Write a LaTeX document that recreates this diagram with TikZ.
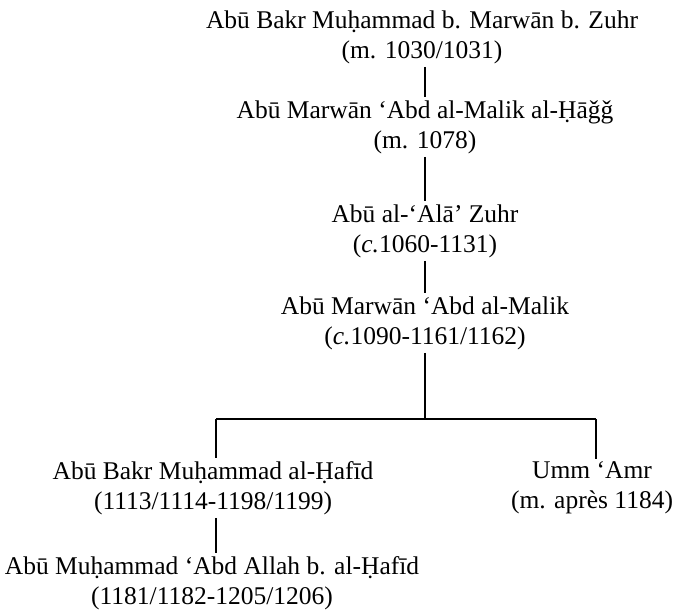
\documentclass[tikz,border=0pt]{standalone}
\usepackage{fontspec}
\setmainfont{Liberation Serif}
\tikzset{
  person/.style={align=center, inner xsep=0pt, inner ysep=3pt,
    font=\fontsize{25.5}{30}\selectfont},
  link/.style={line width=1.3pt, line cap=butt}
}
\begin{document}
\begin{tikzpicture}[x=1pt,y=-1pt]
\useasboundingbox (0,0) rectangle (674,613);
\node[person] (n1) at (422,37) {Abū Bakr Muḥammad b. Marwān b. Zuhr\\(m. 1030/1031)};
\node[person] (n2) at (425,127) {Abū Marwān ‘Abd al-Malik al-Ḥāǧǧ\\(m. 1078)};
\node[person] (n3) at (425,231) {Abū al-‘Alā’ Zuhr\\(\textit{c.}1060-1131)};
\node[person] (n4) at (425,323) {Abū Marwān ‘Abd al-Malik\\(\textit{c.}1090-1161/1162)};
\node[person] (n5) at (213,488) {Abū Bakr Muḥammad al-Ḥafīd\\(1113/1114-1198/1199)};
\node[person] (n6) at (592,488) {Umm ‘Amr\\(m. après 1184)};
\node[person] (n7) at (212,583) {Abū Muḥammad ‘Abd Allah b. al-Ḥafīd\\(1181/1182-1205/1206)};
\coordinate (fork) at (425,419);
\coordinate (forkL) at (216,419);
\coordinate (forkR) at (596,419);
\draw[link] (n1.south -| n2.north) -- (n2.north);
\draw[link] (n2.south) -- (n3.north);
\draw[link] (n3.south) -- (n4.north);
\draw[link] (n4.south) -- (fork);
\draw[link] (forkL) -- (forkR);
\draw[link] (forkL) -- (forkL |- n5.north);
\draw[link] (forkR) -- (forkR |- n6.north);
\draw[link] (forkL |- n5.south) -- (forkL |- n7.north);
\end{tikzpicture}
\end{document}
